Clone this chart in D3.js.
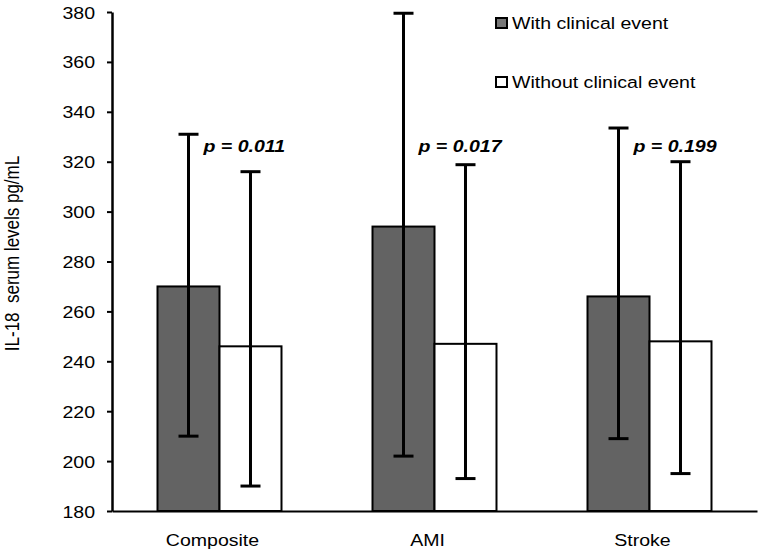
<!DOCTYPE html>
<html>
<head>
<meta charset="utf-8">
<script src="https://cdn.jsdelivr.net/npm/d3@7"></script>
<style>
  html, body { margin: 0; padding: 0; background: #fff; }
  svg { display: block; }
  text { font-family: "Liberation Sans", Arial, sans-serif; fill: #000; }
</style>
</head>
<body>
<svg id="chart" width="762" height="556"></svg>
<script>
// ---- data ----
const categories = ["Composite", "AMI", "Stroke"];
const seriesNames = ["With clinical event", "Without clinical event"];
const withMeans = [270, 294, 266];
const withLow = [210, 202, 209];
const withHigh = [331, 379.5, 333.5];
const withoutMeans = [246, 247, 248];
const withoutLow = [190, 193, 195];
const withoutHigh = [316, 318.8, 320];
const pLabels = ["p = 0.011", "p = 0.017", "p = 0.199"];
const pLabelLevel = [326, 326, 326];
const yTicks = [180, 200, 220, 240, 260, 280, 300, 320, 340, 360, 380];
const yTitle = "IL-18  serum levels pg/mL";

// ---- layout ----
const svg = d3.select("#chart");
const SX = 1.15; // horizontal stretch of glyphs in reference
const mLeft = 112, mRight = 757, mTop = 12, mBottom = 511;
const fills = ["#636363", "#ffffff"];

const y = d3.scaleLinear().domain([180, 380]).range([mBottom, mTop]);
const x0 = d3.scaleBand().domain(categories).range([mLeft, mRight]).paddingInner(0).paddingOuter(0);
const x1 = d3.scaleBand().domain(seriesNames).range([0, x0.bandwidth()]).paddingInner(0).paddingOuter(0.734);

const rows = categories.map((c, i) => ({
  cat: c,
  vals: [
    { s: seriesNames[0], mean: withMeans[i], lo: withLow[i], hi: withHigh[i], fill: fills[0] },
    { s: seriesNames[1], mean: withoutMeans[i], lo: withoutLow[i], hi: withoutHigh[i], fill: fills[1] }
  ]
}));

// bars
const g = svg.append("g");
const groups = g.selectAll("g.cat").data(rows).join("g")
  .attr("class", "cat")
  .attr("transform", d => `translate(${x0(d.cat)},0)`);

groups.selectAll("rect").data(d => d.vals).join("rect")
  .attr("x", d => x1(d.s))
  .attr("width", x1.bandwidth())
  .attr("y", d => y(d.mean))
  .attr("height", d => y(180) - y(d.mean))
  .attr("fill", d => d.fill)
  .attr("stroke", "#000")
  .attr("stroke-width", 2);

// error bars
const capW = 20;
const eb = groups.selectAll("g.eb").data(d => d.vals).join("g").attr("class", "eb");
eb.append("line")
  .attr("x1", d => x1(d.s) + x1.bandwidth() / 2)
  .attr("x2", d => x1(d.s) + x1.bandwidth() / 2)
  .attr("y1", d => y(d.lo)).attr("y2", d => y(d.hi))
  .attr("stroke", "#000").attr("stroke-width", 3);
eb.selectAll("line.cap").data(d => [{ d, v: d.lo }, { d, v: d.hi }]).join("line")
  .attr("class", "cap")
  .attr("x1", o => x1(o.d.s) + x1.bandwidth() / 2 - capW / 2)
  .attr("x2", o => x1(o.d.s) + x1.bandwidth() / 2 + capW / 2)
  .attr("y1", o => y(o.v)).attr("y2", o => y(o.v))
  .attr("stroke", "#000").attr("stroke-width", 3);

// y axis
const yAxis = svg.append("g")
  .attr("transform", `translate(${mLeft},0)`)
  .call(d3.axisLeft(y).tickValues(yTicks).tickSize(5).tickPadding(12).tickSizeOuter(0));
yAxis.select(".domain").attr("stroke", "#000").attr("stroke-width", 2.5);
yAxis.selectAll(".tick line").attr("stroke", "#000").attr("stroke-width", 2);
yAxis.selectAll(".tick text")
  .attr("x", null).attr("dy", null)
  .attr("dominant-baseline", "central")
  .attr("transform", `translate(-17,0) scale(${SX},1)`)
  .style("font-size", "17px")
  .style("font-family", "'Liberation Sans', Arial, sans-serif")
  .attr("fill", "#000");

// x axis
const xAxis = svg.append("g")
  .attr("transform", `translate(0,${mBottom})`)
  .call(d3.axisBottom(x0).tickSize(0).tickPadding(0).tickSizeOuter(0));
xAxis.select(".domain").attr("stroke", "#000").attr("stroke-width", 2);
xAxis.selectAll(".tick text")
  .attr("y", null).attr("dy", null)
  .attr("transform", `translate(-7,35) scale(${SX},1)`)
  .style("font-size", "17px")
  .style("font-family", "'Liberation Sans', Arial, sans-serif")
  .attr("fill", "#000");

// y title
svg.append("text")
  .attr("transform", `translate(19,${(mTop + mBottom) / 2 - 8}) rotate(-90) scale(1,${SX})`)
  .attr("text-anchor", "middle")
  .style("font-size", "17px")
  .style("white-space", "pre")
  .text(yTitle);

// p-values
svg.selectAll("text.pval").data(categories).join("text")
  .attr("class", "pval")
  .attr("transform", (c, i) => `translate(${x0(c) + x0.bandwidth() / 2 - 16},${y(pLabelLevel[i]) + 5}) scale(${SX},1)`)
  .style("font-size", "17px")
  .style("font-weight", "bold")
  .style("font-style", "italic")
  .text((c, i) => pLabels[i]);

// legend
const legend = svg.append("g").attr("transform", "translate(496,0)");
const li = legend.selectAll("g").data(seriesNames).join("g")
  .attr("transform", (d, i) => `translate(0,${18 + i * 59})`);
li.append("rect")
  .attr("width", 11).attr("height", 10)
  .attr("fill", (d, i) => i === 0 ? "#777777" : "#ffffff")
  .attr("stroke", "#000").attr("stroke-width", 2);
li.append("text")
  .attr("transform", `translate(16,10.5) scale(${SX},1)`)
  .style("font-size", "17px")
  .text(d => d);
</script>
</body>
</html>
